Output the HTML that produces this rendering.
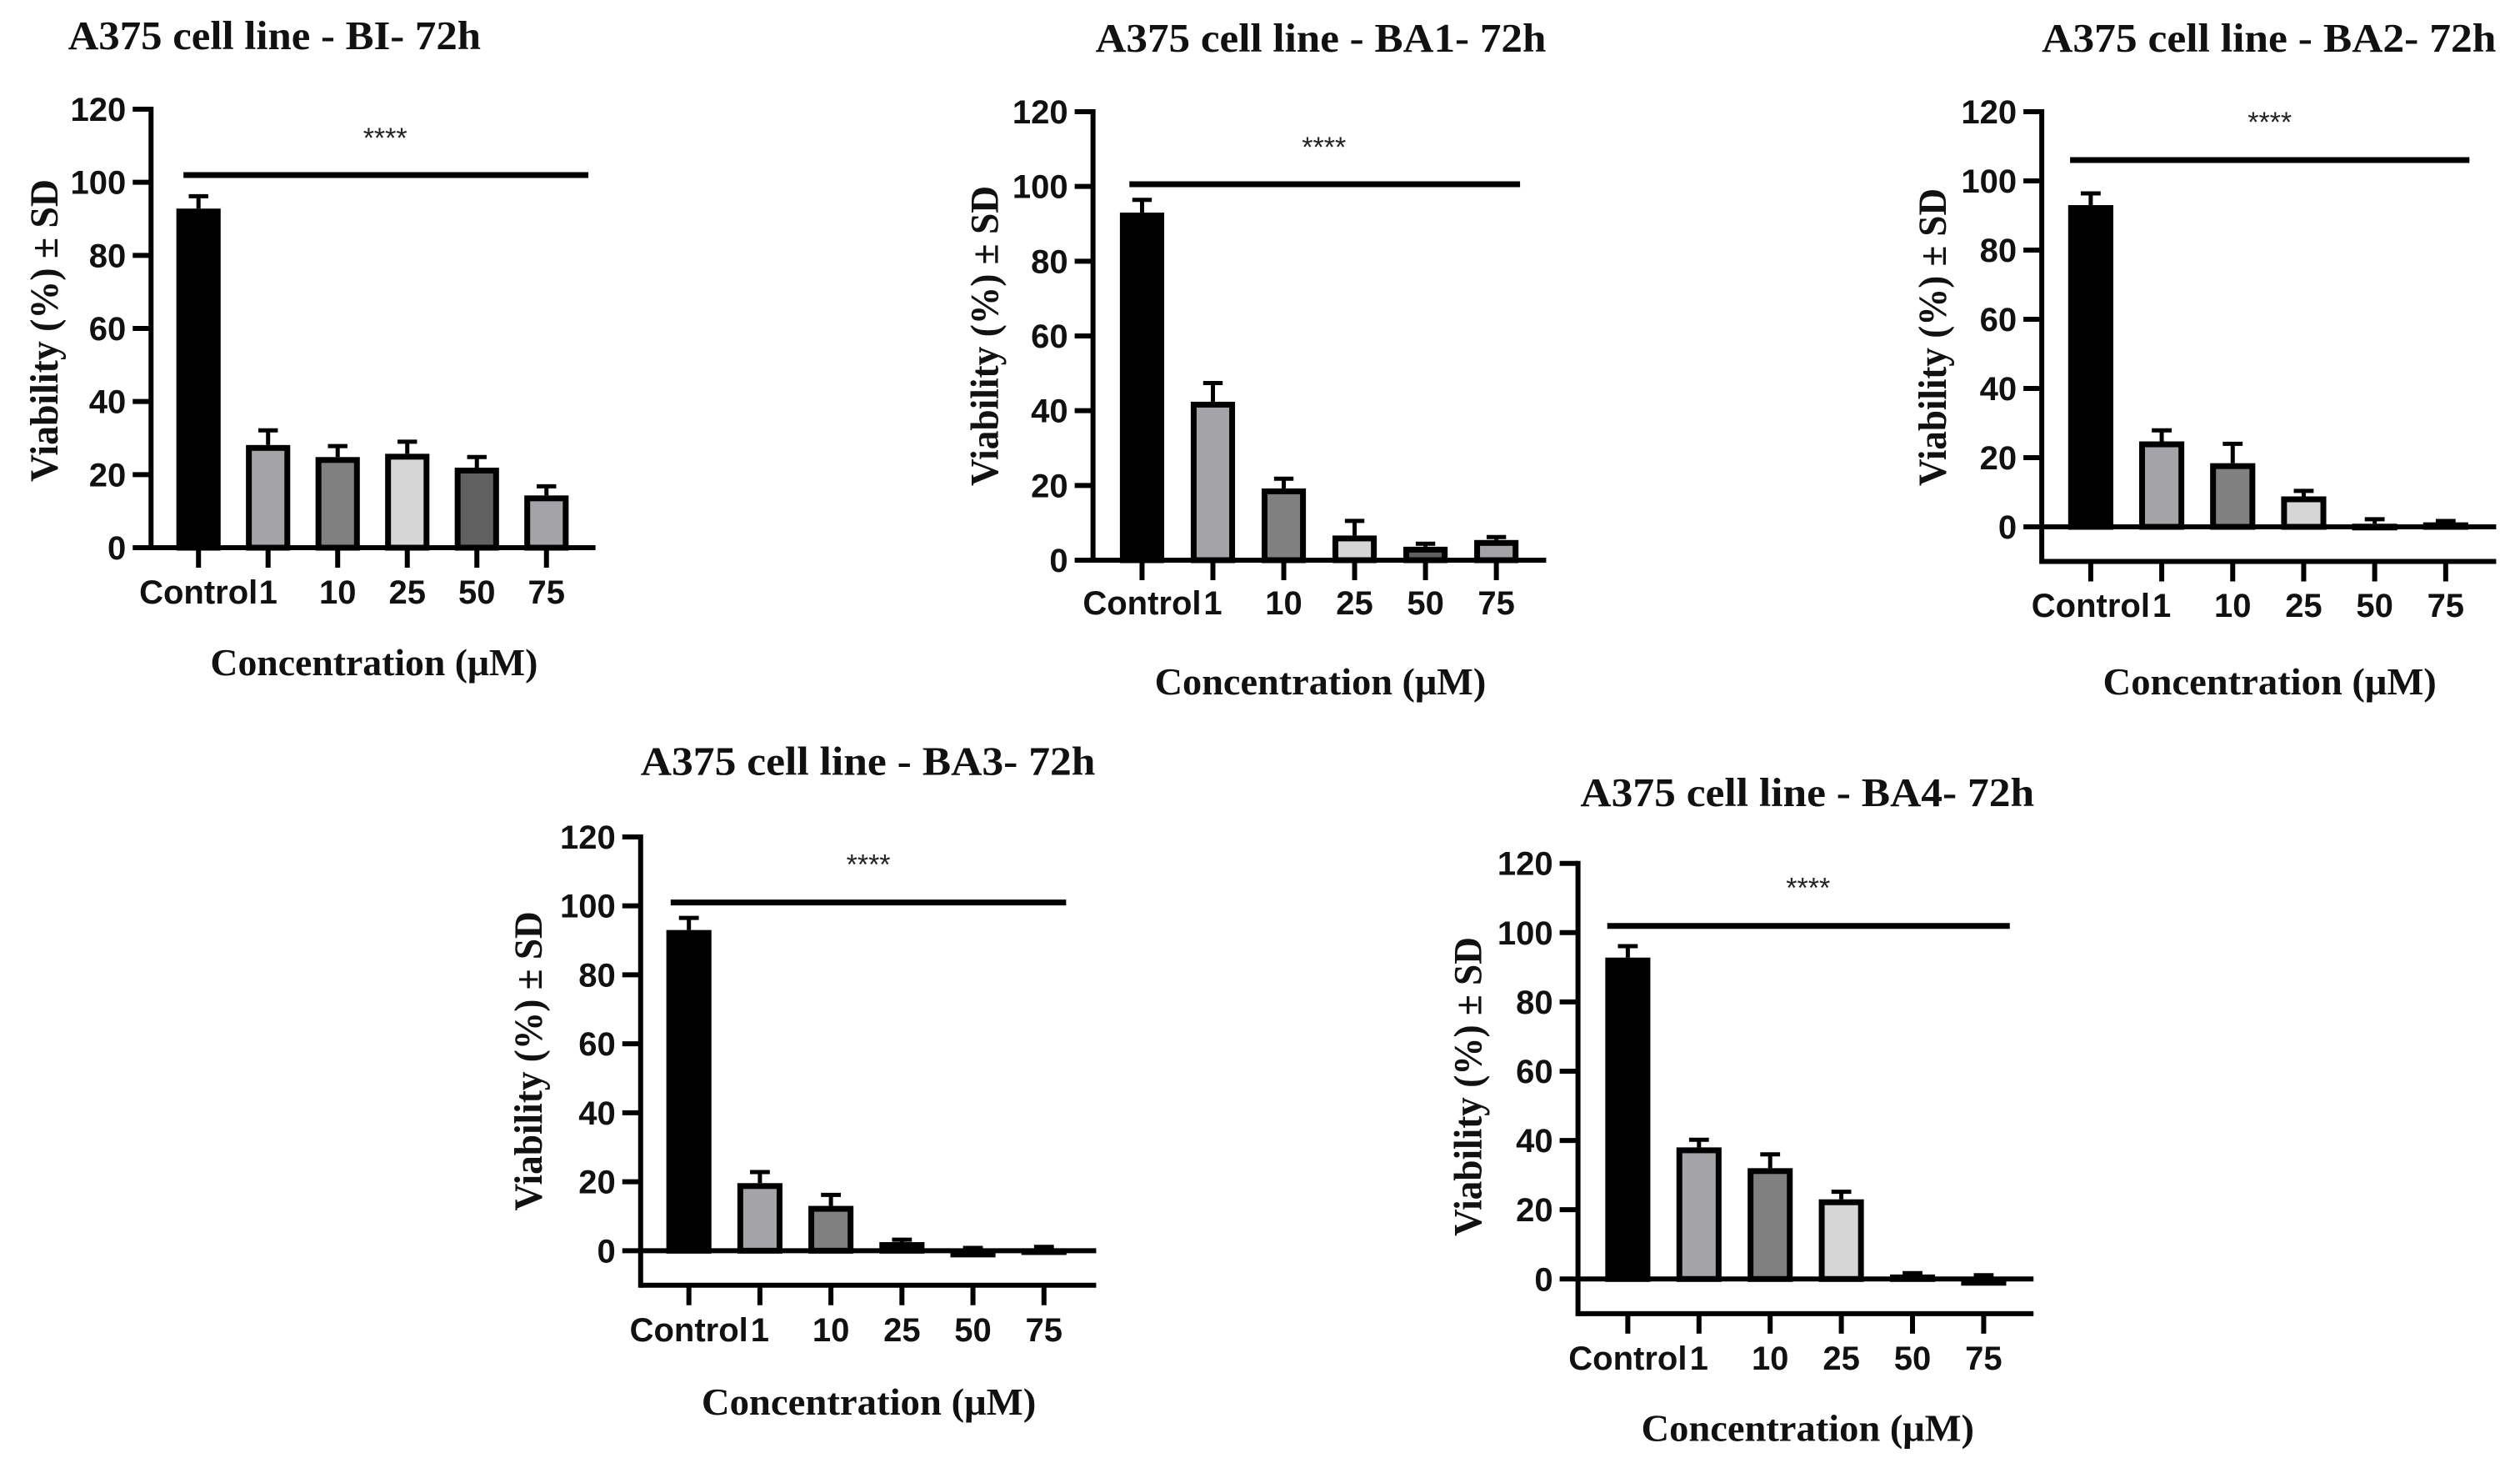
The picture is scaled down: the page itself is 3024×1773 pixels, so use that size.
<!DOCTYPE html>
<html><head><meta charset="utf-8"><style>
html,body{margin:0;padding:0;background:#fff;}
svg{display:block;}
.tk{font-family:"Liberation Sans",Arial,sans-serif;font-weight:bold;font-size:40px;fill:#111;}
.tt{font-family:"Liberation Serif","Times New Roman",serif;font-weight:bold;fill:#111;}
</style></head><body>
<svg id="fig" width="3024" height="1773" viewBox="0 0 3024 1773" xmlns="http://www.w3.org/2000/svg"></svg>
<script>
const categories = ["Control", "1", "10", "25", "50", "75"];
const yTicks = [0, 20, 40, 60, 80, 100, 120];
const titles = ["A375 cell line - BI- 72h", "A375 cell line - BA1- 72h", "A375 cell line - BA2- 72h", "A375 cell line - BA3- 72h", "A375 cell line - BA4- 72h"];
const biValues = [92.8, 28.1, 24.8, 25.7, 21.9, 14.3];
const biErr = [96.2, 32.1, 27.8, 29.0, 24.8, 16.8];
const ba1Values = [93.0, 42.4, 19.2, 6.6, 3.6, 5.4];
const ba1Err = [96.4, 47.4, 21.8, 10.5, 4.4, 6.2];
const ba2Values = [93.0, 24.7, 18.4, 8.8, 0.9, 1.3];
const ba2Err = [96.4, 27.9, 24.0, 10.4, 2.2, 1.7];
const ba3Values = [93.0, 19.6, 13.0, 2.5, -1.0, 0.7];
const ba3Err = [96.5, 22.8, 16.2, 3.2, 0.8, 1.1];
const ba4Values = [92.8, 38.0, 32.0, 23.0, 1.3, -0.9];
const ba4Err = [96.1, 40.2, 36.0, 25.2, 1.7, 1.1];
const yMins = [0, 0, -10, -10, -10];

const fills = ["#000", "#a4a4a8", "#808080", "#d6d6d6", "#606060", "#a4a4a8"];
// layout geometry (raw measurement space) + per-panel correction
const rawLayouts = [
 {o:[0,0],f:[0.949,1],ax:191,y0px:657,y120px:131,c0:251,step:88,bw:56,xEnd:753,sig:[232,744,210],star:[487,161],title:[86,608,59],tick:710,yl:[56,215,578],xl:[266,680,810]},
 {o:[1100,0],f:[0.949,1],ax:1323,y0px:672,y120px:134,c0:1385,step:89.6,bw:56,xEnd:1896,sig:[1369,1863,221],star:[1615,172],title:[1326,1896,62],tick:723,yl:[1186,223,583],xl:[1401,1820,833]},
 {o:[2250,0],f:[0.918,1],ax:2468,y0px:632,y120px:134,c0:2532,step:92.8,bw:59,xEnd:3062,sig:[2505,3027,192],star:[2766,142],title:[2468,3062,62],tick:726,yl:[2325,226,583],xl:[2548,2984,833]},
 {o:[560,870],f:[0.949,1.063],ax:780,y0px:1463,y120px:996,c0:841,step:89.8,bw:57,xEnd:1356,sig:[818,1318,1070],star:[1068,1023],title:[780,1355,926],tick:1552,yl:[638,1080,1418],xl:[857,1280,1648]},
 {o:[1700,900],f:[0.949,1.028],ax:1904,y0px:1517,y120px:1032,c0:1967,step:90,bw:57,xEnd:2480,sig:[1941,2450,1105],star:[2195,1056],title:[1907,2481,965],tick:1609,yl:[1765,1118,1467],xl:[1984,2405,1706]}
];
function fixLayout(R){
  const X = v => R.o[0] + (v - R.o[0]) * R.f[0];
  const Y = v => R.o[1] + (v - R.o[1]) * R.f[1];
  return {ax:X(R.ax), y0px:Y(R.y0px), y120px:Y(R.y120px), c0:X(R.c0), step:R.step*R.f[0], bw:R.bw*R.f[0],
    xEnd:X(R.xEnd), sig:[X(R.sig[0]),X(R.sig[1]),Y(R.sig[2])], star:[X(R.star[0]),Y(R.star[1])],
    title:[X(R.title[0]),X(R.title[1]),Y(R.title[2])], tick:Y(R.tick), yl:[X(R.yl[0]),Y(R.yl[1]),Y(R.yl[2])],
    xl:[X(R.xl[0]),X(R.xl[1]),Y(R.xl[2])]};
}
const layouts = rawLayouts.map(fixLayout);
const series = [[biValues,biErr],[ba1Values,ba1Err],[ba2Values,ba2Err],[ba3Values,ba3Err],[ba4Values,ba4Err]];
const NS = "http://www.w3.org/2000/svg";
const svg = document.getElementById("fig");
function mk(tag, attrs, parent){const e=document.createElementNS(NS,tag);for(const k in attrs)e.setAttribute(k,attrs[k]);(parent||svg).appendChild(e);return e;}

layouts.forEach((L, p) => {
  const g = mk("g", {});
  
  
  const unit = (L.y0px - L.y120px) / 120;
  const y = v => L.y0px - v * unit;
  const x = i => L.c0 + i * L.step;
  const yMin = yMins[p];
  const yBottom = y(yMin);
  const t = mk("text", {x:L.title[0], y:L.title[2], class:"tt", "font-size":49, textLength:L.title[1]-L.title[0], lengthAdjust:"spacingAndGlyphs"}, g);
  t.textContent = titles[p];
  
  
  const ya = mk("line", {x1:L.ax, y1:y(120)-3, x2:L.ax, y2:yBottom+3, stroke:"#000","stroke-width":6}, g);
  
  
  yTicks.forEach(v => {
    const tl = mk("line", {x1:L.ax-22, y1:y(v), x2:L.ax, y2:y(v), stroke:"#000","stroke-width":6}, g);
    
    
    const tx = mk("text", {x:L.ax-30, y:y(v)+14, class:"tk", "text-anchor":"end"}, g);
    tx.textContent = v;
    
    
  });
  const xa = mk("line", {x1:L.ax, y1:yBottom, x2:L.xEnd, y2:yBottom, stroke:"#000","stroke-width":6}, g);
  
  
  if (yMin < 0) {
    const zl = mk("line", {x1:L.ax, y1:y(0), x2:L.xEnd, y2:y(0), stroke:"#000","stroke-width":6}, g);
    
    
  }
  const vals = series[p][0], errs = series[p][1];
  categories.forEach((c, i) => {
    const cx = x(i);
    const xt = mk("line", {x1:cx, y1:yBottom, x2:cx, y2:yBottom+24, stroke:"#000","stroke-width":6}, g);
    
    
    const lb = mk("text", {x:cx, y:L.tick+14, class:"tk", "text-anchor":"middle"}, g);
    lb.textContent = c;
    
    
    const v = vals[i], e = errs[i];
    const ey = y(e), vy = y(Math.max(v,0));
    const el = mk("line", {x1:cx, y1:ey, x2:cx, y2:vy, stroke:"#000","stroke-width":5}, g);
    
    
    const ec = mk("line", {x1:cx-L.bw*0.22, y1:ey, x2:cx+L.bw*0.22, y2:ey, stroke:"#000","stroke-width":5}, g);
    
    
    const top = Math.min(y(v), y(0)), h = Math.max(Math.abs(y(v)-y(0)), 1);
    const r = mk("rect", {x:cx-L.bw/2+3.5, y:top+3.5, width:L.bw-7, height:Math.max(h-3.5,1), fill:fills[i], stroke:"#000","stroke-width":7}, g);
    
    
  });
  const sl = mk("line", {x1:L.sig[0], y1:L.sig[2], x2:L.sig[1], y2:L.sig[2], stroke:"#000","stroke-width":7}, g);
  
  
  const st = mk("text", {x:L.star[0], y:L.star[1]+16, "text-anchor":"middle", "font-family":"Liberation Sans, sans-serif", "font-size":34, fill:"#222"}, g);
  st.textContent = "****";
  
  
  const xl = mk("text", {x:L.xl[0], y:L.xl[2], class:"tt", "font-size":46, textLength:L.xl[1]-L.xl[0], lengthAdjust:"spacingAndGlyphs"}, g);
  xl.textContent = "Concentration (\u03bcM)";
  
  
  const yc = L.yl[0] + 16;
  const yl = mk("text", {x:yc, y:L.yl[2], class:"tt", "font-size":48, transform:`rotate(-90 ${yc} ${L.yl[2]})`, textLength:L.yl[2]-L.yl[1], lengthAdjust:"spacingAndGlyphs"}, g);
  yl.textContent = "Viability (%) \u00b1 SD";
  
  
});
</script>
</body></html>
